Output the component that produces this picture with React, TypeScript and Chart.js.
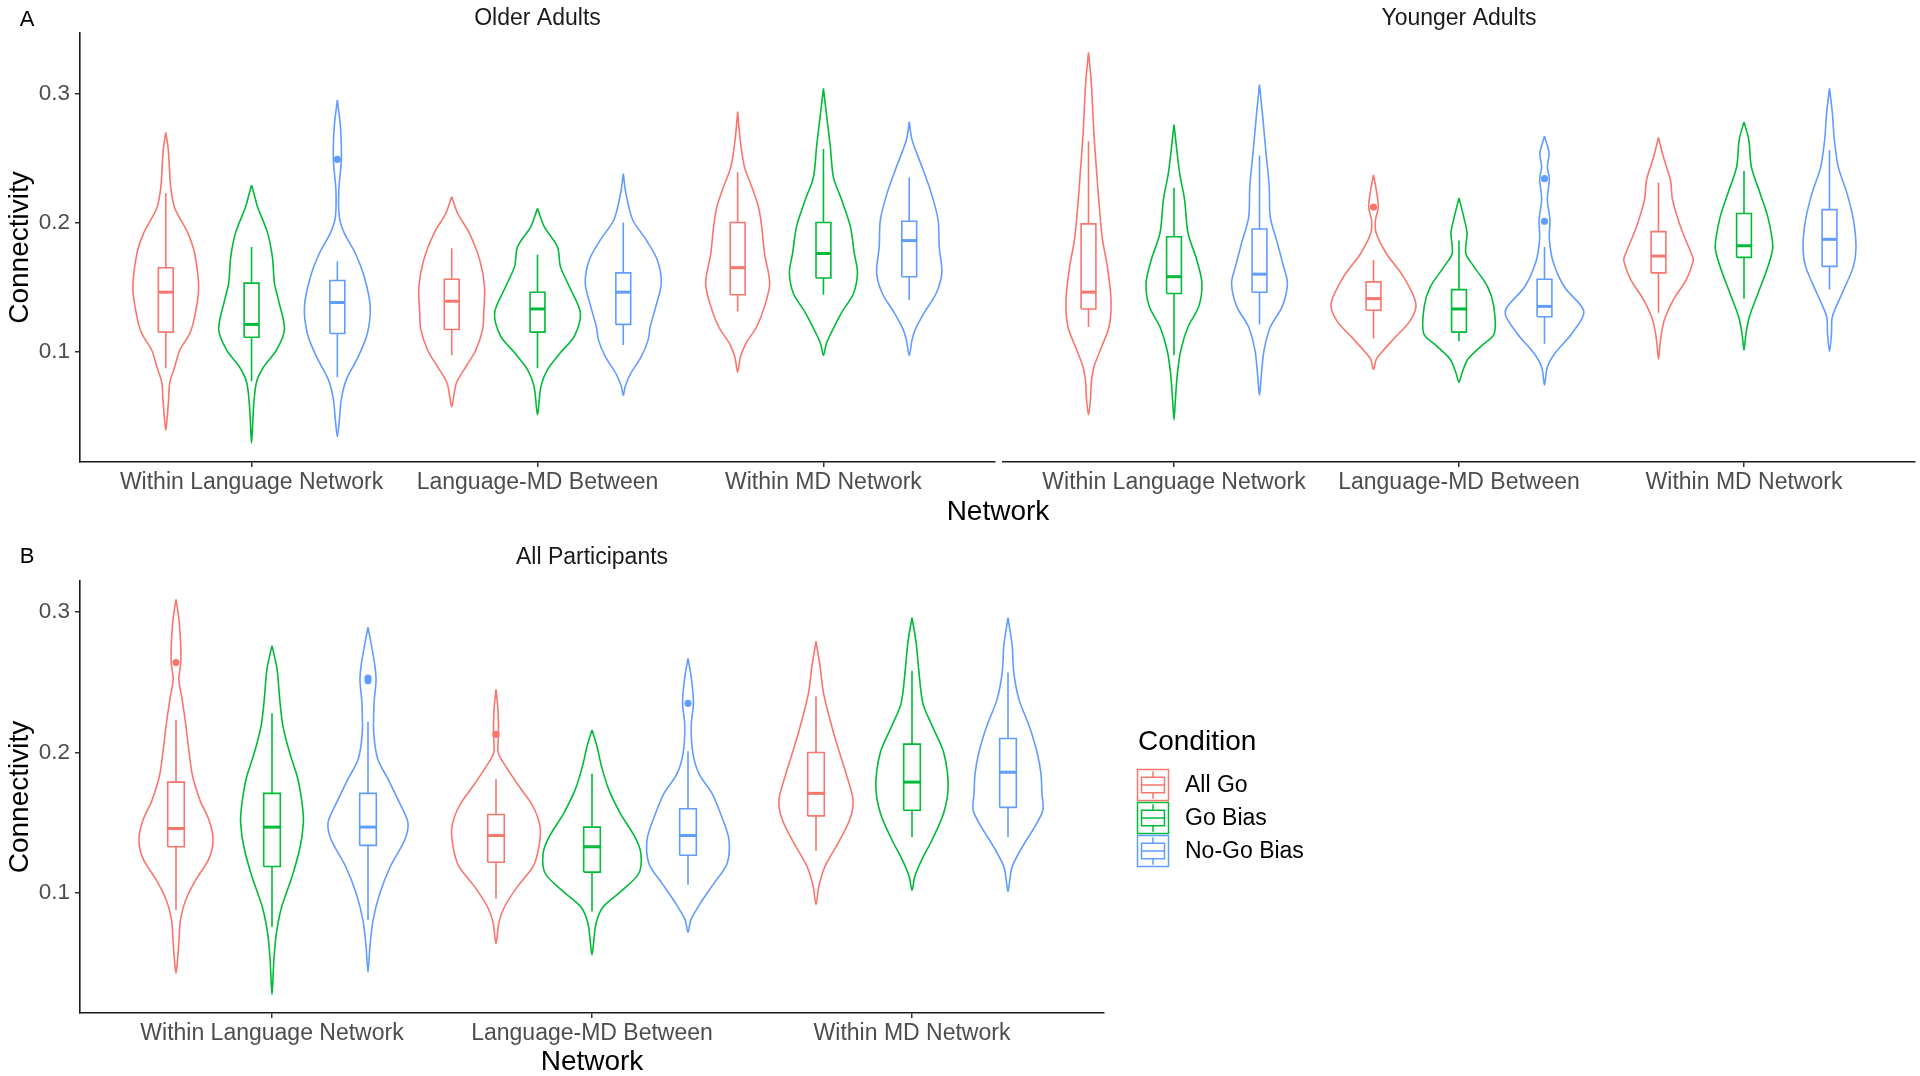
import React, { useEffect, useRef } from 'react';
import { Chart, registerables } from 'chart.js';

Chart.register(...registerables);

type Pt = [number, number]; // [connectivity value, violin half-width in category units]

const FONT = "'Liberation Sans', Arial, Helvetica, sans-serif";
const CATEGORIES = ['Within Language Network', 'Language-MD Between', 'Within MD Network'];
const CONDITIONS = ['All Go', 'Go Bias', 'No-Go Bias'];
const COLORS = ['#F8766D', '#00BA38', '#619CFF'];
const Y_TICKS = [0.1, 0.2, 0.3];
const X_TICKS = [1, 2, 3];
const TOP_Y_RANGE = [0.0143, 0.347];
const BOTTOM_Y_RANGE = [0.0148, 0.322];
const DODGE = 0.3;
const BOX_HALF = 0.026;

// ---------- Older Adults: violin outlines ----------
const olderWL_allGo: Pt[] = [[0.270, 0], [0.256, 0.009], [0.228, 0.017], [0.212, 0.030], [0.203, 0.050], [0.192, 0.077], [0.176, 0.101], [0.149, 0.115], [0.127, 0.101], [0.114, 0.084], [0.101, 0.049], [0.088, 0.031], [0.076, 0.014], [0.063, 0.010], [0.049, 0.005], [0.039, 0]];
const olderWL_goBias: Pt[] = [[0.229, 0], [0.221, 0.010], [0.212, 0.021], [0.192, 0.056], [0.173, 0.073], [0.153, 0.080], [0.140, 0.094], [0.117, 0.115], [0.101, 0.087], [0.088, 0.042], [0.076, 0.017], [0.057, 0.007], [0.029, 0]];
const olderWL_noGo: Pt[] = [[0.295, 0], [0.274, 0.011], [0.249, 0.014], [0.225, 0.005], [0.204, 0.007], [0.192, 0.024], [0.176, 0.063], [0.158, 0.094], [0.135, 0.115], [0.114, 0.105], [0.096, 0.073], [0.078, 0.031], [0.063, 0.014], [0.047, 0.007], [0.034, 0]];
const olderLMD_allGo: Pt[] = [[0.220, 0], [0.207, 0.021], [0.192, 0.061], [0.171, 0.098], [0.150, 0.115], [0.130, 0.112], [0.117, 0.108], [0.101, 0.084], [0.088, 0.049], [0.076, 0.017], [0.065, 0.007], [0.057, 0]];
const olderLMD_goBias: Pt[] = [[0.211, 0], [0.197, 0.023], [0.181, 0.070], [0.166, 0.080], [0.150, 0.112], [0.130, 0.150], [0.112, 0.129], [0.099, 0.080], [0.086, 0.035], [0.073, 0.012], [0.051, 0]];
const olderLMD_noGo: Pt[] = [[0.238, 0], [0.223, 0.009], [0.202, 0.033], [0.187, 0.079], [0.171, 0.119], [0.153, 0.133], [0.135, 0.114], [0.119, 0.094], [0.109, 0.087], [0.096, 0.063], [0.083, 0.026], [0.073, 0.007], [0.066, 0]];
const olderWMD_allGo: Pt[] = [[0.286, 0], [0.264, 0.009], [0.243, 0.024], [0.228, 0.049], [0.212, 0.073], [0.197, 0.084], [0.176, 0.094], [0.153, 0.112], [0.135, 0.094], [0.119, 0.066], [0.106, 0.028], [0.096, 0.010], [0.084, 0]];
const olderWMD_goBias: Pt[] = [[0.304, 0], [0.285, 0.010], [0.259, 0.024], [0.235, 0.035], [0.218, 0.063], [0.197, 0.094], [0.176, 0.108], [0.161, 0.119], [0.145, 0.105], [0.130, 0.063], [0.114, 0.026], [0.106, 0.010], [0.097, 0]];
const olderWMD_noGo: Pt[] = [[0.278, 0], [0.264, 0.010], [0.243, 0.045], [0.223, 0.077], [0.202, 0.101], [0.181, 0.105], [0.161, 0.114], [0.145, 0.094], [0.130, 0.052], [0.117, 0.021], [0.109, 0.010], [0.097, 0]];

// ---------- Younger Adults: violin outlines ----------
const youngerWL_allGo: Pt[] = [[0.332, 0], [0.308, 0.010], [0.269, 0.019], [0.238, 0.029], [0.212, 0.038], [0.187, 0.049], [0.166, 0.066], [0.140, 0.079], [0.119, 0.072], [0.101, 0.041], [0.088, 0.019], [0.076, 0.010], [0.063, 0.007], [0.051, 0]];
const youngerWL_goBias: Pt[] = [[0.276, 0], [0.256, 0.010], [0.238, 0.020], [0.218, 0.037], [0.192, 0.049], [0.171, 0.080], [0.153, 0.098], [0.135, 0.087], [0.119, 0.049], [0.101, 0.024], [0.083, 0.012], [0.063, 0.005], [0.047, 0]];
const youngerWL_noGo: Pt[] = [[0.307, 0], [0.285, 0.010], [0.256, 0.022], [0.228, 0.034], [0.204, 0.038], [0.184, 0.063], [0.166, 0.084], [0.153, 0.098], [0.135, 0.080], [0.119, 0.038], [0.101, 0.016], [0.083, 0.007], [0.066, 0]];
const youngerLMD_allGo: Pt[] = [[0.237, 0], [0.225, 0.010], [0.212, 0.017], [0.202, 0.007], [0.192, 0.009], [0.176, 0.045], [0.158, 0.105], [0.137, 0.149], [0.124, 0.129], [0.111, 0.076], [0.101, 0.035], [0.094, 0.010], [0.086, 0]];
const youngerLMD_goBias: Pt[] = [[0.219, 0], [0.204, 0.017], [0.192, 0.028], [0.176, 0.024], [0.166, 0.052], [0.150, 0.101], [0.135, 0.122], [0.114, 0.124], [0.104, 0.077], [0.094, 0.031], [0.083, 0.010], [0.076, 0]];
const youngerLMD_noGo: Pt[] = [[0.267, 0], [0.254, 0.016], [0.243, 0.010], [0.234, 0.017], [0.218, 0.010], [0.202, 0.019], [0.187, 0.017], [0.169, 0.031], [0.150, 0.070], [0.131, 0.138], [0.114, 0.096], [0.099, 0.038], [0.088, 0.010], [0.074, 0]];
const youngerWMD_allGo: Pt[] = [[0.266, 0], [0.251, 0.017], [0.233, 0.042], [0.218, 0.049], [0.197, 0.077], [0.176, 0.115], [0.171, 0.122], [0.156, 0.098], [0.140, 0.052], [0.124, 0.020], [0.109, 0.007], [0.094, 0]];
const youngerWMD_goBias: Pt[] = [[0.278, 0], [0.264, 0.017], [0.243, 0.026], [0.223, 0.056], [0.204, 0.084], [0.181, 0.101], [0.166, 0.084], [0.145, 0.049], [0.127, 0.019], [0.114, 0.007], [0.101, 0]];
const youngerWMD_noGo: Pt[] = [[0.304, 0], [0.285, 0.010], [0.264, 0.017], [0.243, 0.031], [0.223, 0.061], [0.202, 0.084], [0.181, 0.093], [0.166, 0.084], [0.145, 0.044], [0.127, 0.010], [0.114, 0.007], [0.100, 0]];

// ---------- All Participants: violin outlines ----------
const allWL_allGo: Pt[] = [[0.309, 0], [0.295, 0.009], [0.280, 0.014], [0.264, 0.015], [0.252, 0.009], [0.238, 0.019], [0.219, 0.031], [0.200, 0.041], [0.183, 0.052], [0.166, 0.075], [0.152, 0.103], [0.138, 0.116], [0.124, 0.102], [0.110, 0.063], [0.095, 0.030], [0.081, 0.014], [0.065, 0.009], [0.053, 0.005], [0.043, 0]];
const allWL_goBias: Pt[] = [[0.276, 0], [0.259, 0.016], [0.238, 0.024], [0.219, 0.034], [0.200, 0.055], [0.181, 0.081], [0.162, 0.095], [0.150, 0.098], [0.133, 0.088], [0.112, 0.063], [0.090, 0.030], [0.072, 0.014], [0.053, 0.006], [0.028, 0]];
const allWL_noGo: Pt[] = [[0.289, 0], [0.276, 0.011], [0.261, 0.022], [0.251, 0.025], [0.235, 0.019], [0.214, 0.018], [0.195, 0.031], [0.181, 0.063], [0.164, 0.099], [0.150, 0.125], [0.138, 0.115], [0.119, 0.070], [0.100, 0.037], [0.081, 0.016], [0.062, 0.006], [0.044, 0]];
const allLMD_allGo: Pt[] = [[0.245, 0], [0.231, 0.006], [0.214, 0.008], [0.200, 0.007], [0.190, 0.031], [0.176, 0.072], [0.162, 0.115], [0.147, 0.138], [0.133, 0.134], [0.119, 0.116], [0.105, 0.068], [0.090, 0.026], [0.079, 0.009], [0.064, 0]];
const allLMD_goBias: Pt[] = [[0.216, 0], [0.204, 0.016], [0.190, 0.030], [0.174, 0.052], [0.157, 0.088], [0.140, 0.134], [0.128, 0.153], [0.114, 0.146], [0.102, 0.094], [0.090, 0.034], [0.079, 0.013], [0.067, 0.006], [0.056, 0]];
const allLMD_noGo: Pt[] = [[0.267, 0], [0.252, 0.011], [0.235, 0.017], [0.219, 0.010], [0.200, 0.015], [0.185, 0.034], [0.171, 0.075], [0.154, 0.106], [0.138, 0.128], [0.121, 0.122], [0.107, 0.081], [0.093, 0.039], [0.081, 0.009], [0.072, 0]];
const allWMD_allGo: Pt[] = [[0.279, 0], [0.261, 0.013], [0.243, 0.023], [0.223, 0.044], [0.204, 0.068], [0.185, 0.094], [0.166, 0.116], [0.152, 0.105], [0.136, 0.070], [0.119, 0.028], [0.105, 0.009], [0.092, 0]];
const allWMD_goBias: Pt[] = [[0.296, 0], [0.278, 0.013], [0.259, 0.021], [0.235, 0.034], [0.219, 0.063], [0.200, 0.099], [0.176, 0.113], [0.157, 0.099], [0.138, 0.063], [0.124, 0.031], [0.112, 0.009], [0.102, 0]];
const allWMD_noGo: Pt[] = [[0.296, 0], [0.276, 0.013], [0.257, 0.018], [0.238, 0.034], [0.219, 0.066], [0.200, 0.091], [0.185, 0.103], [0.171, 0.106], [0.159, 0.109], [0.147, 0.083], [0.133, 0.045], [0.119, 0.013], [0.110, 0.006], [0.101, 0]];

// ---------- Box statistics [lower whisker, Q1, median, Q3, upper whisker] ----------
// order: WL (All Go, Go Bias, No-Go Bias), LMD (...), WMD (...)
const OLDER_BOXES = [
  [0.087, 0.115, 0.146, 0.165, 0.223], [0.077, 0.111, 0.121, 0.153, 0.181], [0.080, 0.114, 0.138, 0.155, 0.170],
  [0.097, 0.117, 0.139, 0.156, 0.180], [0.087, 0.115, 0.133, 0.146, 0.175], [0.105, 0.121, 0.146, 0.161, 0.200],
  [0.131, 0.144, 0.165, 0.200, 0.239], [0.144, 0.157, 0.176, 0.200, 0.257], [0.140, 0.158, 0.186, 0.201, 0.235],
];
const YOUNGER_BOXES = [
  [0.119, 0.133, 0.146, 0.199, 0.263], [0.097, 0.145, 0.158, 0.189, 0.227], [0.121, 0.146, 0.160, 0.195, 0.252],
  [0.110, 0.132, 0.141, 0.154, 0.171], [0.108, 0.115, 0.133, 0.148, 0.186], [0.106, 0.127, 0.135, 0.156, 0.181],
  [0.130, 0.161, 0.174, 0.193, 0.231], [0.141, 0.173, 0.182, 0.207, 0.240], [0.148, 0.166, 0.187, 0.210, 0.256],
];
const ALL_BOXES = [
  [0.088, 0.133, 0.146, 0.179, 0.223], [0.076, 0.119, 0.147, 0.171, 0.228], [0.081, 0.134, 0.147, 0.171, 0.222],
  [0.096, 0.122, 0.141, 0.156, 0.181], [0.087, 0.115, 0.133, 0.147, 0.185], [0.106, 0.127, 0.141, 0.160, 0.201],
  [0.130, 0.155, 0.171, 0.200, 0.240], [0.140, 0.159, 0.179, 0.206, 0.258], [0.140, 0.161, 0.186, 0.210, 0.257],
];

// ---------- Outliers [category index, condition index, value] ----------
const OLDER_OUTLIERS = [[0, 2, 0.249]];
const YOUNGER_OUTLIERS = [[1, 0, 0.212], [1, 2, 0.234], [1, 2, 0.201]];
const ALL_OUTLIERS = [[0, 0, 0.264], [0, 2, 0.251], [0, 2, 0.253], [1, 0, 0.213], [1, 2, 0.235]];

const OLDER_VIOLINS = [olderWL_allGo, olderWL_goBias, olderWL_noGo, olderLMD_allGo, olderLMD_goBias, olderLMD_noGo, olderWMD_allGo, olderWMD_goBias, olderWMD_noGo];
const YOUNGER_VIOLINS = [youngerWL_allGo, youngerWL_goBias, youngerWL_noGo, youngerLMD_allGo, youngerLMD_goBias, youngerLMD_noGo, youngerWMD_allGo, youngerWMD_goBias, youngerWMD_noGo];
const ALL_VIOLINS = [allWL_allGo, allWL_goBias, allWL_noGo, allLMD_allGo, allLMD_goBias, allLMD_noGo, allWMD_allGo, allWMD_goBias, allWMD_noGo];

function buildDatasets(violins: Pt[][], boxes: number[][], outliers: number[][]) {
  const ds: any[] = [];
  violins.forEach((prof, k) => {
    const cat = Math.floor(k / 3);
    const cond = k % 3;
    const c = cat + 1 + (cond - 1) * DODGE;
    const color = COLORS[cond];
    const right = prof.map(([v, w]) => ({ x: c + w, y: v }));
    const left = prof.slice(0, -1).reverse().map(([v, w]) => ({ x: c - w, y: v }));
    ds.push({
      data: [...right, ...left],
      showLine: true,
      borderColor: color,
      borderWidth: 1.6,
      tension: 0.3,
      pointRadius: 0,
      fill: false,
    });
    const [lo, q1, med, q3, hi] = boxes[k];
    ds.push({
      data: [
        { x: c - BOX_HALF, y: q1 }, { x: c + BOX_HALF, y: q1 }, { x: c + BOX_HALF, y: q3 },
        { x: c - BOX_HALF, y: q3 }, { x: c - BOX_HALF, y: q1 },
        { x: c, y: null },
        { x: c, y: lo }, { x: c, y: q1 },
        { x: c, y: null },
        { x: c, y: q3 }, { x: c, y: hi },
      ],
      showLine: true,
      spanGaps: false,
      borderColor: color,
      borderWidth: 1.6,
      tension: 0,
      pointRadius: 0,
      fill: false,
    });
    ds.push({
      data: [{ x: c - BOX_HALF, y: med }, { x: c + BOX_HALF, y: med }],
      showLine: true,
      borderColor: color,
      borderWidth: 3,
      borderCapStyle: 'butt',
      tension: 0,
      pointRadius: 0,
      fill: false,
    });
  });
  outliers.forEach(([cat, cond, v]) => {
    const c = cat + 1 + (cond - 1) * DODGE;
    ds.push({
      data: [{ x: c, y: v }],
      showLine: false,
      pointRadius: 3.6,
      pointBackgroundColor: COLORS[cond],
      pointBorderWidth: 0,
    });
  });
  return ds;
}

const legendPlugin = {
  id: 'conditionLegend',
  afterDraw(chart: any) {
    const ctx = chart.ctx as CanvasRenderingContext2D;
    ctx.save();
    ctx.fillStyle = '#000';
    ctx.textBaseline = 'middle';
    ctx.textAlign = 'left';
    ctx.font = `28px ${FONT}`;
    ctx.fillText('Condition', 1138, 202);
    CONDITIONS.forEach((name, i) => {
      const x0 = 1137.5;
      const y0 = 229.5 + i * 33;
      const s = 31;
      ctx.strokeStyle = COLORS[i];
      ctx.lineWidth = 1.5;
      ctx.strokeRect(x0, y0, s, s);
      const bx0 = x0 + s * 0.13;
      const bx1 = x0 + s * 0.87;
      const by0 = y0 + s * 0.25;
      const by1 = y0 + s * 0.75;
      ctx.strokeRect(bx0, by0, bx1 - bx0, by1 - by0);
      ctx.beginPath();
      ctx.moveTo(bx0, y0 + s * 0.5);
      ctx.lineTo(bx1, y0 + s * 0.5);
      ctx.moveTo(x0 + s / 2, y0 + s * 0.06);
      ctx.lineTo(x0 + s / 2, by0);
      ctx.moveTo(x0 + s / 2, by1);
      ctx.lineTo(x0 + s / 2, y0 + s * 0.94);
      ctx.stroke();
      ctx.fillStyle = '#000';
      ctx.font = `23px ${FONT}`;
      ctx.fillText(name, 1185, y0 + s / 2 + 1);
    });
    ctx.restore();
  },
};

interface PanelSpec {
  title: string;
  violins: Pt[][];
  boxes: number[][];
  outliers: number[][];
  yRange: number[];
  showY: boolean;
  xAxisHeight: number;
  xTitle?: string;
  padding: { left: number; right: number; top: number; bottom: number };
  titlePadding: { top: number; bottom: number };
  legend?: boolean;
}

function makeConfig(p: PanelSpec): any {
  const axisGrid = { drawOnChartArea: false, drawTicks: true, tickLength: 5, color: '#333333', lineWidth: 1.5 };
  const axisBorder = { display: true, color: '#1a1a1a', width: 1.6 };
  return {
    type: 'scatter',
    data: { datasets: buildDatasets(p.violins, p.boxes, p.outliers) },
    plugins: p.legend ? [legendPlugin] : [],
    options: {
      responsive: false,
      animation: false,
      devicePixelRatio: 1,
      layout: { padding: p.padding },
      plugins: {
        legend: { display: false },
        tooltip: { enabled: false },
        title: {
          display: true,
          text: p.title,
          fullSize: false,
          color: '#1a1a1a',
          font: { family: FONT, size: 23, weight: 'normal', lineHeight: 1.2 },
          padding: p.titlePadding,
        },
      },
      scales: {
        x: {
          type: 'linear',
          min: 0.4,
          max: 3.6,
          afterBuildTicks: (s: any) => { s.ticks = X_TICKS.map((v) => ({ value: v })); },
          afterFit: (s: any) => { s.height = p.xAxisHeight; },
          ticks: {
            callback: (v: any) => CATEGORIES[Math.round(Number(v)) - 1] ?? '',
            font: { family: FONT, size: 23 },
            color: '#4d4d4d',
            padding: 2,
            maxRotation: 0,
            minRotation: 0,
            autoSkip: false,
          },
          grid: axisGrid,
          border: axisBorder,
          title: p.xTitle
            ? { display: true, text: p.xTitle, color: '#000', font: { family: FONT, size: 28, lineHeight: 1 }, padding: { top: 0, bottom: 0 } }
            : { display: false },
        },
        y: {
          type: 'linear',
          display: p.showY,
          min: p.yRange[0],
          max: p.yRange[1],
          afterBuildTicks: (s: any) => { s.ticks = Y_TICKS.map((v) => ({ value: v })); },
          afterFit: (s: any) => { if (p.showY) s.width = 80; },
          ticks: {
            callback: (v: any) => Number(v).toFixed(1),
            font: { family: FONT, size: 22.5 },
            color: '#4d4d4d',
            padding: 5,
          },
          grid: axisGrid,
          border: axisBorder,
          title: { display: p.showY, text: 'Connectivity', color: '#000', font: { family: FONT, size: 28, lineHeight: 1.2 }, padding: { top: 3, bottom: 0 } },
        },
      },
    },
  };
}

const textStyle = (x: number, y: number, size: number): React.CSSProperties => ({
  position: 'absolute',
  left: x,
  top: y,
  transform: 'translate(-50%, -50%)',
  fontFamily: FONT,
  fontSize: size,
  lineHeight: 1,
  color: '#000',
  whiteSpace: 'nowrap',
});

export default function App() {
  const olderRef = useRef<HTMLCanvasElement>(null);
  const youngerRef = useRef<HTMLCanvasElement>(null);
  const allRef = useRef<HTMLCanvasElement>(null);

  useEffect(() => {
    const charts: Chart[] = [];
    if (olderRef.current) {
      charts.push(new Chart(olderRef.current, makeConfig({
        title: 'Older Adults', violins: OLDER_VIOLINS, boxes: OLDER_BOXES, outliers: OLDER_OUTLIERS,
        yRange: TOP_Y_RANGE, showY: true, xAxisHeight: 78,
        padding: { left: 0, right: 4, top: 0, bottom: 0 }, titlePadding: { top: 5, bottom: 0.4 },
      })));
    }
    if (youngerRef.current) {
      charts.push(new Chart(youngerRef.current, makeConfig({
        title: 'Younger Adults', violins: YOUNGER_VIOLINS, boxes: YOUNGER_BOXES, outliers: YOUNGER_OUTLIERS,
        yRange: TOP_Y_RANGE, showY: false, xAxisHeight: 78,
        padding: { left: 4, right: 5, top: 0, bottom: 0 }, titlePadding: { top: 5, bottom: 0.4 },
      })));
    }
    if (allRef.current) {
      charts.push(new Chart(allRef.current, makeConfig({
        title: 'All Participants', violins: ALL_VIOLINS, boxes: ALL_BOXES, outliers: ALL_OUTLIERS,
        yRange: BOTTOM_Y_RANGE, showY: true, xAxisHeight: 63, xTitle: 'Network',
        padding: { left: 0, right: 296, top: 0, bottom: 0 }, titlePadding: { top: 4.2, bottom: 9.2 },
        legend: true,
      })));
    }
    return () => charts.forEach((c) => c.destroy());
  }, []);

  return (
    <div style={{ position: 'absolute', left: 0, top: 0, width: 1920, height: 1076, background: '#ffffff', overflow: 'hidden' }}>
      <canvas ref={olderRef} width={999} height={540} style={{ position: 'absolute', left: 0, top: 0, display: 'block' }} />
      <canvas ref={youngerRef} width={921} height={540} style={{ position: 'absolute', left: 999, top: 0, display: 'block' }} />
      <canvas ref={allRef} width={1400} height={536} style={{ position: 'absolute', left: 0, top: 540, display: 'block' }} />
      <div style={textStyle(27, 19, 22)}>A</div>
      <div style={textStyle(27, 556, 22)}>B</div>
      <div style={textStyle(998, 511, 28)}>Network</div>
    </div>
  );
}
